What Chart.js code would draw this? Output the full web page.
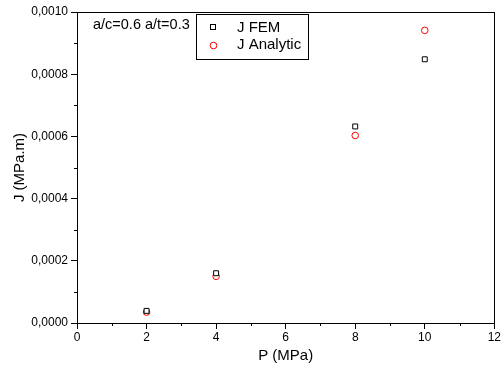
<!DOCTYPE html>
<html>
<head>
<meta charset="utf-8">
<script src="https://cdn.jsdelivr.net/npm/chart.js@4"></script>
<style>
  html, body { margin: 0; padding: 0; background: #fff; }
  #wrap { width: 502px; height: 365px; }
</style>
</head>
<body>
<div id="wrap"><canvas id="scatterChart" width="502" height="365"></canvas></div>
<script>
// data
const pressure = [2, 4, 8, 10];
const jFem = [0.000039, 0.00016, 0.000632, 0.000848];
const jAnalytic = [0.000035, 0.00015, 0.000603, 0.000941];
const xTicks = [0, 2, 4, 6, 8, 10, 12];
const yTicks = [0, 0.0002, 0.0004, 0.0006, 0.0008, 0.0010];

const FONT = "'Liberation Sans', Arial, sans-serif";

function toPoints(xs, ys) {
    return xs.map((x, i) => ({ x: x, y: ys[i] }));
}

// frame, minor ticks, annotation and legend box
const framePlugin = {
    id: 'frame',
    afterDraw(chart) {
        const ctx = chart.ctx;
        const area = chart.chartArea;
        const xs = chart.scales.x;
        const ys = chart.scales.y;
        ctx.save();
        ctx.strokeStyle = '#000';
        ctx.lineWidth = 1;
        ctx.strokeRect(Math.round(area.left) + 0.5, Math.round(area.top) + 0.5,
            Math.round(area.right - area.left), Math.round(area.bottom - area.top));

        // minor ticks
        ctx.beginPath();
        for (let v = 1; v < 12; v += 2) {
            const px = Math.round(xs.getPixelForValue(v)) + 0.5;
            ctx.moveTo(px, area.bottom);
            ctx.lineTo(px, area.bottom + 3);
        }
        for (let v = 0.0001; v < 0.001; v += 0.0002) {
            const py = Math.round(ys.getPixelForValue(v)) + 0.5;
            ctx.moveTo(area.left, py);
            ctx.lineTo(area.left - 3, py);
        }
        ctx.stroke();

        // annotation
        ctx.fillStyle = '#000';
        ctx.font = '14.5px ' + FONT;
        ctx.textBaseline = 'middle';
        ctx.textAlign = 'left';
        ctx.fillText('a/c=0.6 a/t=0.3', 93, 25);

        // legend box
        ctx.fillStyle = '#fff';
        ctx.fillRect(196, 14, 112, 45);
        ctx.strokeRect(196.5, 14.5, 112, 45);
        ctx.strokeStyle = '#000';
        ctx.strokeRect(210.5, 24.5, 5, 5);
        ctx.strokeStyle = '#ff0000';
        ctx.beginPath();
        ctx.arc(213.5, 45.5, 3.3, 0, Math.PI * 2);
        ctx.stroke();
        ctx.fillStyle = '#000';
        ctx.font = '15px ' + FONT;
        ctx.fillText('J FEM', 237, 28);
        ctx.fillText('J Analytic', 237, 45);
        ctx.restore();
    }
};

const config = {
    type: 'scatter',
    data: {
        datasets: [{
            label: 'J FEM',
            data: toPoints(pressure, jFem),
            pointStyle: 'rect',
            pointRadius: 3.5,
            borderColor: '#000',
            backgroundColor: '#fff',
            borderWidth: 1
        }, {
            label: 'J Analytic',
            data: toPoints(pressure, jAnalytic),
            pointStyle: 'circle',
            pointRadius: 3.3,
            borderColor: '#ff0000',
            backgroundColor: '#fff',
            borderWidth: 1
        }]
    },
    options: {
        responsive: false,
        animation: false,
        layout: { padding: { left: 0, right: 6, top: 12, bottom: 0 } },
        plugins: {
            legend: { display: false },
            tooltip: { enabled: false }
        },
        scales: {
            x: {
                type: 'linear',
                min: 0,
                max: 12,
                afterBuildTicks: s => { s.ticks = xTicks.map(v => ({ value: v })); },
                afterFit: s => { s.height = 42; },
                ticks: {
                    color: '#000',
                    font: { family: FONT, size: 12 },
                    padding: 1,
                    maxRotation: 0
                },
                grid: { drawOnChartArea: false, tickLength: 6, color: '#000' },
                border: { color: '#000' },
                title: {
                    display: true,
                    text: 'P (MPa)',
                    color: '#000',
                    font: { family: FONT, size: 15 },
                    padding: { top: 9, bottom: 0 }
                }
            },
            y: {
                type: 'linear',
                min: 0,
                max: 0.001,
                afterBuildTicks: s => { s.ticks = yTicks.map(v => ({ value: v })); },
                afterFit: s => { s.width = 77; },
                ticks: {
                    color: '#000',
                    font: { family: FONT, size: 12 },
                    padding: 3,
                    callback: v => v.toFixed(4).replace('.', ',')
                },
                grid: { drawOnChartArea: false, tickLength: 6, color: '#000' },
                border: { color: '#000' },
                title: {
                    display: true,
                    text: 'J (MPa.m)',
                    color: '#000',
                    font: { family: FONT, size: 15 },
                    padding: { top: 11, bottom: 0 }
                }
            }
        }
    },
    plugins: [framePlugin]
};

const myChart = new Chart(document.getElementById('scatterChart'), config);
</script>
</body>
</html>
